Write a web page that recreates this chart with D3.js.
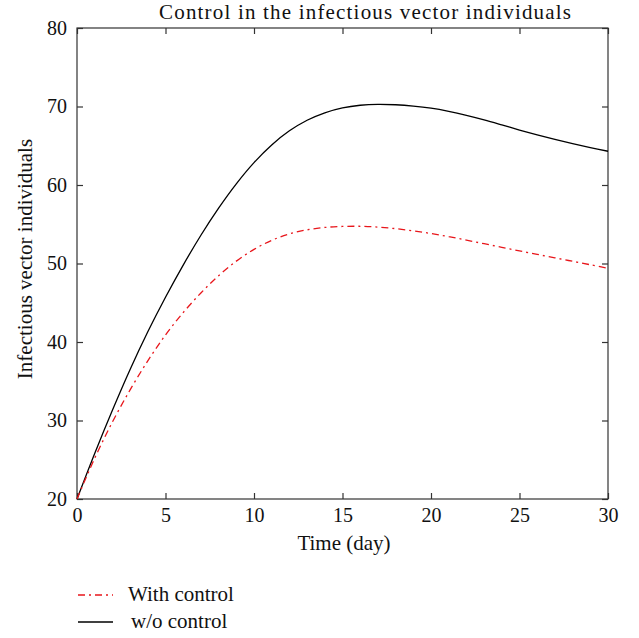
<!DOCTYPE html>
<html>
<head>
<meta charset="utf-8">
<script src="https://cdn.jsdelivr.net/npm/d3@7"></script>
<style>
  body { margin: 0; background: #fff; }
  text { font-family: "Liberation Serif", "DejaVu Serif", serif; fill: #111; }
</style>
</head>
<body>
<svg id="chart" width="639" height="638"></svg>
<script>
// valeurs (t = 0..30 jours)
const days = d3.range(0, 31);
const withControl = [20, 25.2, 29.8, 33.9, 37.6, 40.9, 43.75, 46.25, 48.45, 50.3, 51.8,
  52.95, 53.77, 54.29, 54.59, 54.72, 54.74, 54.64, 54.44, 54.16, 53.82,
  53.42, 52.98, 52.52, 52.06, 51.6, 51.16, 50.72, 50.28, 49.84, 49.4];
const withoutControl = [20, 25.8, 31.3, 36.5, 41.3, 45.7, 49.8, 53.6, 57.05, 60.15, 62.85,
  65.1, 66.9, 68.25, 69.2, 69.82, 70.16, 70.28, 70.22, 70.05, 69.78,
  69.38, 68.88, 68.3, 67.66, 67.0, 66.38, 65.8, 65.26, 64.76, 64.3];
const xTicks = [0, 5, 10, 15, 20, 25, 30];
const yTicks = [20, 30, 40, 50, 60, 70, 80];

const margin = { top: 28, right: 31, bottom: 139, left: 77 };
const width = 639 - margin.left - margin.right;
const height = 638 - margin.top - margin.bottom;

const svg = d3.select('#chart');
const g = svg.append('g')
  .attr('transform', `translate(${margin.left},${margin.top})`);

const x = d3.scaleLinear().domain([0, 30]).range([0, width]);
const y = d3.scaleLinear().domain([20, 80]).range([height, 0]);

// axes avec graduations vers l'intérieur
function styleAxis(sel) {
  sel.select('.domain').remove();
  sel.selectAll('line').attr('stroke', '#333').attr('stroke-width', 1.2);
  sel.selectAll('text').style('font-size', '20px');
}

g.append('g')
  .attr('transform', `translate(0,${height})`)
  .call(d3.axisBottom(x).tickValues(xTicks).tickSizeInner(-6).tickSizeOuter(0).tickPadding(9))
  .call(styleAxis);

g.append('g')
  .call(d3.axisTop(x).tickValues(xTicks).tickSizeInner(-6).tickSizeOuter(0).tickFormat(''))
  .call(styleAxis);

g.append('g')
  .call(d3.axisLeft(y).tickValues(yTicks).tickSizeInner(-6).tickSizeOuter(0).tickPadding(10))
  .call(styleAxis);

g.append('g')
  .attr('transform', `translate(${width},0)`)
  .call(d3.axisRight(y).tickValues(yTicks).tickSizeInner(-6).tickSizeOuter(0).tickFormat(''))
  .call(styleAxis);

// cadre
g.append('rect')
  .attr('width', width)
  .attr('height', height)
  .attr('fill', 'none')
  .attr('stroke', '#333')
  .attr('stroke-width', 1.2);

const line = d3.line()
  .x((d, i) => x(days[i]))
  .y(d => y(d))
  .curve(d3.curveCatmullRom);

g.append('path')
  .datum(withoutControl)
  .attr('d', line)
  .attr('fill', 'none')
  .attr('stroke', '#000')
  .attr('stroke-width', 1.3);

g.append('path')
  .datum(withControl)
  .attr('d', line)
  .attr('fill', 'none')
  .attr('stroke', '#e8161b')
  .attr('stroke-width', 1.3)
  .attr('stroke-dasharray', '7,4,2,4');

// titres
svg.append('text')
  .attr('x', 365)
  .attr('y', 19)
  .attr('text-anchor', 'middle')
  .attr('textLength', 412)
  .attr('lengthAdjust', 'spacing')
  .style('font-size', '21px')
  .text('Control in the infectious vector individuals');

svg.append('text')
  .attr('x', 344)
  .attr('y', 550)
  .attr('text-anchor', 'middle')
  .style('font-size', '21px')
  .text('Time (day)');

svg.append('text')
  .attr('transform', 'translate(32,259) rotate(-90)')
  .attr('text-anchor', 'middle')
  .style('font-size', '21px')
  .text('Infectious vector individuals');

// légende
const legendItems = [
  { label: 'With control', color: '#e8161b', dash: '7,4,2,4', y: 595, tx: 128 },
  { label: 'w/o control', color: '#000', dash: null, y: 622, tx: 131 }
];
legendItems.forEach(item => {
  svg.append('line')
    .attr('x1', 78).attr('x2', 113)
    .attr('y1', item.y).attr('y2', item.y)
    .attr('stroke', item.color)
    .attr('stroke-width', 1.3)
    .attr('stroke-dasharray', item.dash);
  svg.append('text')
    .attr('x', item.tx)
    .attr('y', item.y + 6)
    .style('font-size', '21px')
    .text(item.label);
});
</script>
</body>
</html>
